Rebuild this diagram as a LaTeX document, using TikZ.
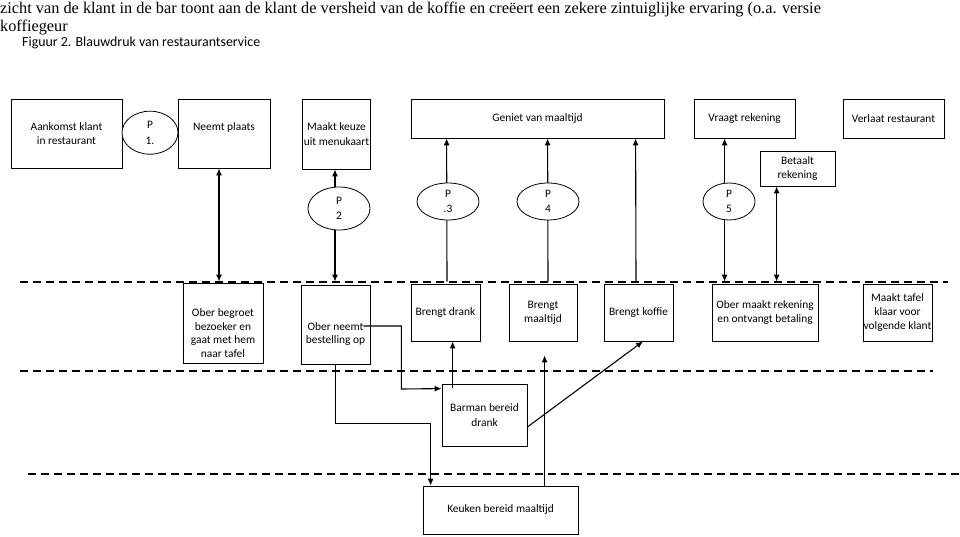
\documentclass[tikz,border=0pt]{standalone}
\usepackage{fontspec}
\setmainfont{Carlito}
\newfontfamily\introfont{Liberation Serif}
\usetikzlibrary{shapes.geometric, calc, arrows.meta}

\tikzset{
    box/.style = {draw, line width = 0.8pt, align = center, inner sep = 1pt, font = \fontsize{11.4}{14.2}\selectfont},
    boxtext/.style = {align = center, inner sep = 0pt, font = \fontsize{11.4}{13.6}\selectfont},
    pbol/.style = {draw, ellipse, fill = white, line width = 0.8pt, inner sep = 0pt, align = center, font = \fontsize{11.4}{15.5}\selectfont},
    lane/.style = {dash pattern = on 8pt off 5pt, line width = 1.2pt},
    pijl/.style = {line width = 1.1pt, -{Latex[length = 7pt, width = 6pt]}},
    dubbel/.style = {line width = 1.1pt, {Latex[length = 7pt, width = 6pt]}-{Latex[length = 7pt, width = 6pt]}}
}

\begin{document}
\begin{tikzpicture}[x = 1pt, y = -1pt]
            \useasboundingbox (0, 0) rectangle (960, 537);
            %\draw[lightgray] (0, 0) grid[step = 20pt] (960, 537);

            % tekst boven de figuur
            \node[anchor = base west, inner sep = 0pt, font = \introfont\fontsize{16.3}{18}\selectfont] (zin) at (0, 14) {zicht van de klant in de bar toont aan de klant de versheid van de koffie en creëert een zekere zintuiglijke ervaring (o.a. versie};
            \node[anchor = base west, inner sep = 0pt, font = \introfont\fontsize{16.3}{18}\selectfont] (zineind) at (0, 32) {koffiegeur};
            \node[anchor = base west, inner sep = 0pt, font = \fontsize{13.9}{16}\selectfont] (figuur) at (22, 46.5) {Figuur 2. Blauwdruk van restaurantservice};

            % scheidingslijnen
            \draw[lane] (20, 282) -- (948, 282);
            \draw[lane] (20, 371) -- (933, 371);
            \draw[lane] (28, 474) -- (960, 474);

            % klant
            \node[box, minimum width = 111pt, minimum height = 69pt] (aankomst) at (66.5, 133.5) {Aankomst klant\\in restaurant};
            \node[box, minimum width = 92pt, minimum height = 69pt] (neemt) at (224, 133.5) {};
            \node[boxtext] (neemttxt) at (224, 127) {Neemt plaats};
            \node[box, minimum width = 67pt, minimum height = 70pt] (keuze) at (336.5, 134) {Maakt keuze\\uit menukaart};
            \node[box, minimum width = 253pt, minimum height = 39pt] (geniet) at (537.5, 118.5) {Geniet van maaltijd};
            \node[box, minimum width = 101pt, minimum height = 39pt] (vraagt) at (744.5, 118.5) {Vraagt rekening};
            \node[box, minimum width = 101pt, minimum height = 39pt] (verlaat) at (893.5, 118.5) {Verlaat restaurant};
            \node[box, minimum width = 75pt, minimum height = 35pt] (betaalt) at (797.5, 168.5) {Betaalt\\rekening};

            % ober
            \node[box, minimum width = 80pt, minimum height = 80pt] (begroet) at (223, 323) {};
            \node[boxtext] (begroettxt) at (223, 333) {Ober begroet\\bezoeker en\\gaat met hem\\naar tafel};
            \node[box, minimum width = 69pt, minimum height = 79pt] (bestelling) at (335.5, 324.5) {};
            \node[boxtext] (bestellingtxt) at (335.5, 334) {Ober neemt\\bestelling op};
            \node[box, minimum width = 69pt, minimum height = 57pt] (drank) at (445.5, 312.5) {Brengt drank};
            \node[box, minimum width = 68pt, minimum height = 57pt] (maaltijd) at (543, 312.5) {Brengt\\maaltijd};
            \node[box, minimum width = 69pt, minimum height = 57pt] (koffie) at (638.5, 312.5) {Brengt koffie};
            \node[box, minimum width = 106pt, minimum height = 57pt] (rekening) at (765, 312.5) {Ober maakt rekening\\en ontvangt betaling};
            \node[box, minimum width = 69pt, minimum height = 57pt, inner sep = 0pt] (tafel) at (897.5, 312.5) {Maakt tafel\\klaar voor\\volgende klant};

            % bar en keuken
            \node[box, minimum width = 85pt, minimum height = 62pt] (barman) at (484.5, 415) {Barman bereid\\drank};
            \node[box, minimum width = 155pt, minimum height = 48pt] (keuken) at (500.5, 510) {Keuken bereid maaltijd};

            % verbindingen
            \draw[dubbel] ($(neemt.south)+(-5, 0)$) -- ($(begroet.north)+(-4, -1)$);
            \draw[dubbel] ($(keuze.south)+(-1.5, 0)$) -- ($(bestelling.north)+(-0.5, -3)$);
            \draw[pijl] ($(drank.north)+(1.5, -2)$) -- ($(geniet.south west)+(36, 0)$);
            \draw[pijl] ($(maaltijd.north)+(5, -2)$) -- ($(geniet.south west)+(137, 0)$);
            \draw[pijl] ($(koffie.north)+(-2.5, -2)$) -- ($(geniet.south west)+(225, 0)$);
            \draw[dubbel] ($(vraagt.south west)+(31, 0)$) -- ($(rekening.north west)+(13, -2)$);
            \draw[dubbel] ($(betaalt.south west)+(17, 0)$) -- ($(rekening.north west)+(65, -2)$);

            \draw[pijl] ($(bestelling.east)+(-7, 1.5)$) -| ++(38, 63) -- ($(barman.north west)+(0, 5)$);
            \draw[pijl] ($(barman.north west)+(11, 4)$) -- ($(drank.south west)+(42, 0)$);
            \draw[pijl] (bestelling.south) |- ($(keuken.north west)+(8, -62)$) -- ($(keuken.north west)+(8, 0)$);
            \draw[pijl] ($(keuken.north west)+(122, 0)$) -- ($(maaltijd.south west)+(36, 14)$);
            \draw[pijl] ($(barman.east)+(0, 12)$) -- ($(koffie.south)+(4.5, 0)$);

            % P-punten
            \node[pbol, minimum width = 56pt, minimum height = 43pt] (p1) at (150, 132.7) {P\\1.};
            \node[pbol, minimum width = 62pt, minimum height = 43pt] (p2) at (339, 208.5) {P\\2};
            \node[pbol, minimum width = 62pt, minimum height = 37pt] (p3) at (448, 201.5) {P\\.3};
            \node[pbol, minimum width = 62pt, minimum height = 37pt] (p4) at (548, 201.5) {P\\4};
            \node[pbol, minimum width = 52pt, minimum height = 37pt] (p5) at (729, 201.5) {P\\5};
\end{tikzpicture}
\end{document}
